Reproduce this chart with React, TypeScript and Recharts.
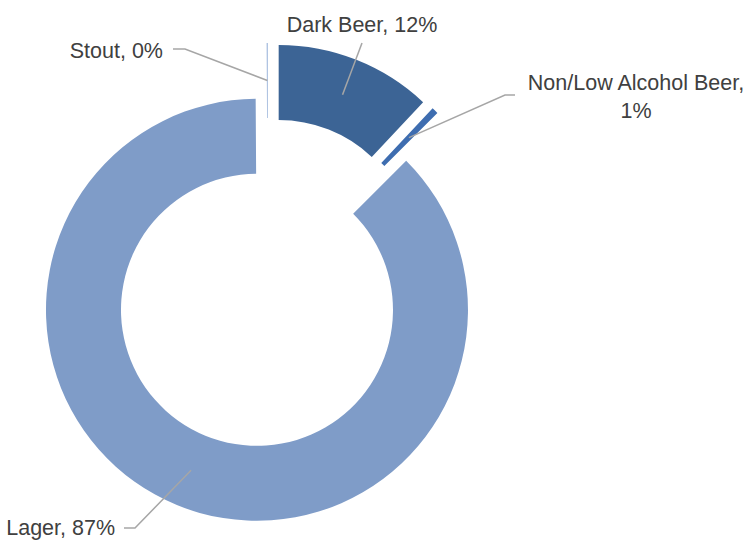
import React from "react";
import { PieChart, Pie, Cell } from "recharts";

// beer category shares (%), clockwise from 12 o'clock
const categories = ["Dark Beer", "Non/Low Alcohol Beer", "Lager", "Stout"];
const shares = [12.0, 0.5, 87.4, 0.1];
const colors = ["#3C6495", "#3E6DB0", "#7F9CC8", "#A9BFE0"];

const data = categories.map((name, i) => ({ name, value: shares[i] }));

const EXPLODE = 29;
const RAD = Math.PI / 180;
const total = shares.reduce((a, b) => a + b, 0);

// mid angle of each slice in recharts' convention (deg, ccw from 3 o'clock)
const midAngles: number[] = [];
let acc = 0;
shares.forEach((v) => {
  midAngles.push(90 - (360 * (acc + v / 2)) / total);
  acc += v;
});

// manual label placement (leader elbow + text anchor), like Excel's dragged labels
const labelLayout = [
  { path: [[362, 43]], tx: 362, ty: 32, anchor: "middle", wrap: false },
  { path: [[505, 95], [515, 95]], tx: 636, ty: 90, anchor: "middle", wrap: true },
  { path: [[135, 528], [124, 528]], tx: 115, ty: 535, anchor: "end", wrap: false },
  { path: [[185, 49], [173, 49]], tx: 163, ty: 58, anchor: "end", wrap: false },
];

const renderLabel = (props: any) => {
  const { cx, cy, midAngle, innerRadius, outerRadius, index, name, percent } = props;
  const ex = cx + EXPLODE * Math.cos(-midAngle * RAD);
  const ey = cy + EXPLODE * Math.sin(-midAngle * RAD);
  const r = (innerRadius + outerRadius) / 2;
  const sx = ex + r * Math.cos(-midAngle * RAD);
  const sy = ey + r * Math.sin(-midAngle * RAD);
  const lay = labelLayout[index];
  const pts = [[sx, sy], ...lay.path].map((p) => p.join(",")).join(" ");
  const pct = `${Math.round(percent * 100)}%`;
  return (
    <g key={`lbl-${index}`}>
      <polyline points={pts} fill="none" stroke="#A6A6A6" strokeWidth={1.5} />
      <text
        x={lay.tx}
        y={lay.ty}
        textAnchor={lay.anchor}
        fill="#404040"
        fontSize={21.5}
        fontFamily="Liberation Sans, Arial, sans-serif"
      >
        {lay.wrap ? (
          <>
            <tspan x={lay.tx}>{name},</tspan>
            <tspan x={lay.tx} dy={28}>
              {pct}
            </tspan>
          </>
        ) : (
          `${name}, ${pct}`
        )}
      </text>
    </g>
  );
};

export default function App() {
  return (
    <div style={{ position: "absolute", left: 0, top: 0, background: "#fff" }}>
      <PieChart width={750} height={542} margin={{ top: 0, right: 0, bottom: 0, left: 0 }}>
        <Pie
          data={data}
          dataKey="value"
          nameKey="name"
          cx={268}
          cy={283}
          innerRadius={136}
          outerRadius={211}
          startAngle={90}
          endAngle={-270}
          stroke="none"
          labelLine={false}
          label={renderLabel}
          isAnimationActive={false}
        >
          {data.map((entry, i) => (
            <Cell
              key={`cell-${i}`}
              fill={colors[i]}
              transform={`translate(${EXPLODE * Math.cos(-midAngles[i] * RAD)},${
                EXPLODE * Math.sin(-midAngles[i] * RAD)
              })`}
            />
          ))}
        </Pie>
      </PieChart>
    </div>
  );
}
